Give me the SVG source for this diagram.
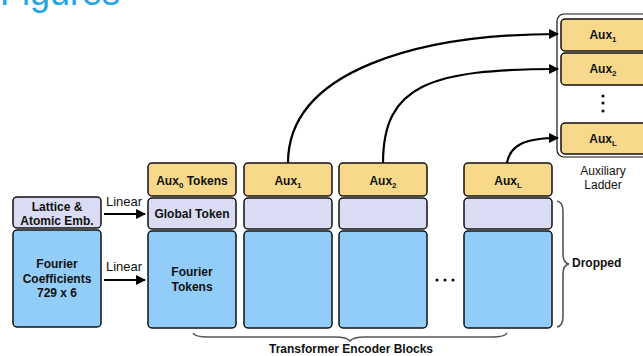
<svg xmlns="http://www.w3.org/2000/svg" width="643" height="356" viewBox="0 0 643 356">
<defs>
<style>
text{font-family:"Liberation Sans",Arial,sans-serif;font-size:12px;font-weight:bold;fill:#111;text-anchor:middle}
.reg{font-weight:normal;font-size:13px;text-anchor:start}
.box{stroke:#111;stroke-width:1.5}
.aux{fill:#f8d98b}
.glob{fill:#d9dcf2}
.four{fill:#91cdf8}
.conn{fill:none;stroke:#000;stroke-width:2.2}
.brace{fill:none;stroke:#555;stroke-width:1.6}
.sub{font-size:8px}
</style>
<marker id="ah" viewBox="0 0 10 10" refX="9" refY="5" markerWidth="4.5" markerHeight="4.5" orient="auto" markerUnits="strokeWidth">
<path d="M0,0 L10,5 L0,10 z" fill="#000"/>
</marker>
</defs>
<rect width="643" height="356" fill="#fff"/>
<text x="0" y="5" style="font-size:36px;font-weight:normal;fill:#1ea6e6;text-anchor:start">Figures</text>

<g id="input-lattice">
<rect class="box glob" x="13" y="197" width="88" height="31" rx="4"/>
<text x="57" y="211">Lattice &amp;</text>
<text x="57" y="225">Atomic Emb.</text>
</g>
<g id="input-fourier">
<rect class="box four" x="13" y="230" width="88" height="97" rx="4"/>
<text x="57" y="268">Fourier</text>
<text x="57" y="283">Coefficients</text>
<text x="57" y="297">729 x 6</text>
</g>

<g id="block-0">
<rect class="box aux" x="148" y="163" width="88" height="33" rx="4"/>
<text x="192" y="185">Aux<tspan class="sub" dy="3">0</tspan><tspan dy="-3"> Tokens</tspan></text>
<rect class="box glob" x="148" y="198" width="88" height="31" rx="4"/>
<text x="192" y="218">Global Token</text>
<rect class="box four" x="148" y="231" width="88" height="97" rx="4"/>
<text x="192" y="276">Fourier</text>
<text x="192" y="291">Tokens</text>
</g>
<g id="block-1">
<rect class="box aux" x="244" y="163" width="88" height="33" rx="4"/>
<text x="288" y="185">Aux<tspan class="sub" dy="3">1</tspan></text>
<rect class="box glob" x="244" y="198" width="88" height="31" rx="4"/>
<rect class="box four" x="244" y="231" width="88" height="97" rx="4"/>
</g>
<g id="block-2">
<rect class="box aux" x="339" y="163" width="88" height="33" rx="4"/>
<text x="383" y="185">Aux<tspan class="sub" dy="3">2</tspan></text>
<rect class="box glob" x="339" y="198" width="88" height="31" rx="4"/>
<rect class="box four" x="339" y="231" width="88" height="97" rx="4"/>
</g>
<g id="ellipsis">
<circle cx="437" cy="280" r="1.6" fill="#111"/>
<circle cx="445" cy="280" r="1.6" fill="#111"/>
<circle cx="453" cy="280" r="1.6" fill="#111"/>
</g>
<g id="block-L">
<rect class="box aux" x="464" y="163" width="88" height="33" rx="4"/>
<text x="508" y="185">Aux<tspan class="sub" dy="3">L</tspan></text>
<rect class="box glob" x="464" y="198" width="88" height="31" rx="4"/>
<rect class="box four" x="464" y="231" width="88" height="97" rx="4"/>
</g>

<g id="aux-ladder">
<rect x="557" y="14" width="100" height="143" rx="7" fill="#fff" stroke="#111" stroke-width="1.2"/>
<rect class="box aux" x="561" y="19" width="92" height="32" rx="4"/>
<text x="603" y="39">Aux<tspan class="sub" dy="3">1</tspan></text>
<rect class="box aux" x="561" y="53" width="92" height="32" rx="4"/>
<text x="603" y="73">Aux<tspan class="sub" dy="3">2</tspan></text>
<circle cx="603" cy="96" r="1.6" fill="#111"/>
<circle cx="603" cy="103" r="1.6" fill="#111"/>
<circle cx="603" cy="111" r="1.6" fill="#111"/>
<rect class="box aux" x="561" y="123" width="92" height="31" rx="4"/>
<text x="603" y="143">Aux<tspan class="sub" dy="3">L</tspan></text>
<text x="603" y="175" style="font-weight:normal">Auxiliary</text>
<text x="603" y="189" style="font-weight:normal">Ladder</text>
</g>

<g id="connectors">
<text class="reg" x="106" y="206">Linear</text>
<path class="conn" d="M104,214 L145,214" marker-end="url(#ah)"/>
<text class="reg" x="106" y="271">Linear</text>
<path class="conn" d="M104,280 L145,280" marker-end="url(#ah)"/>
<path class="conn" d="M288,163 C288,70 420,34 558,34" marker-end="url(#ah)"/>
<path class="conn" d="M383,163 C383,85 430,69 558,69" marker-end="url(#ah)"/>
<path class="conn" d="M507,163 C510,145 525,138 558,138" marker-end="url(#ah)"/>
</g>

<g id="brace-dropped">
<path class="brace" d="M557,201 Q563,202 563,212 L563,254 Q563,263 569,264 Q563,265 563,274 L563,316 Q563,326 557,327"/>
<text x="572" y="267" style="text-anchor:start">Dropped</text>
</g>
<g id="brace-blocks">
<path class="brace" d="M193,333 Q195,337 208,337 L335,337 Q347,337 350,341 Q353,337 365,337 L492,337 Q505,337 507,333"/>
<text x="351" y="353">Transformer Encoder Blocks</text>
</g>
</svg>
